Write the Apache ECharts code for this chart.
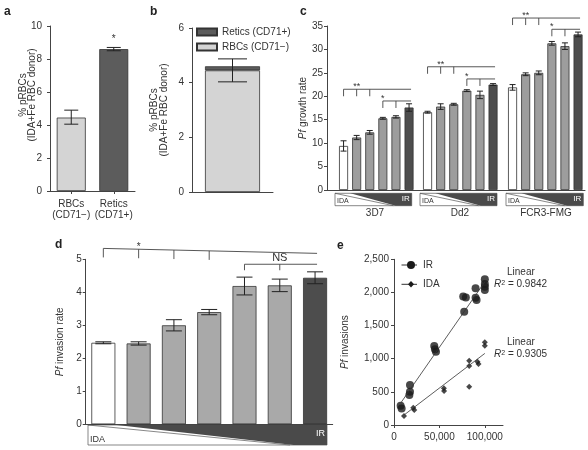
<!DOCTYPE html>
<html><head><meta charset="utf-8">
<script src="https://cdn.jsdelivr.net/npm/echarts@6/dist/echarts.min.js"></script>
<style>html,body{margin:0;padding:0;background:#fff}#c{width:588px;height:450px}</style>
</head><body><div id="c"></div>
<script>
// ---------------- data ----------------
const aCategories = ['RBCs\n(CD71−)', 'Retics\n(CD71+)'];
const aValues = [4.45, 8.6];
const aErrLow = [4.05, 8.5];
const aErrHigh = [4.9, 8.7];

const bCategories = ['IDA+Fe'];
const bRBCs = [4.45];
const bRetics = [0.15];
const bErrLow = [4.03];
const bErrHigh = [4.87];

const cGroups = ['3D7', 'Dd2', 'FCR3-FMG'];
const cLevels = ['1', '2', '3', '4', '5', '6'];
const c3D7 = [9.4, 11.2, 12.3, 15.3, 15.6, 17.6];
const c3D7Err = [1.1, 0.45, 0.4, 0.2, 0.25, 0.8];
const cDd2 = [16.6, 17.8, 18.3, 21.2, 20.3, 22.5];
const cDd2Err = [0.2, 0.6, 0.2, 0.2, 0.8, 0.2];
const cFCR3 = [21.9, 24.7, 25.0, 31.3, 30.7, 33.2];
const cFCR3Err = [0.6, 0.3, 0.4, 0.4, 0.7, 0.5];

const dLevels = ['1', '2', '3', '4', '5', '6', '7'];
const dValues = [2.47, 2.45, 3.0, 3.40, 4.19, 4.21, 4.44];
const dErr = [0.03, 0.05, 0.17, 0.08, 0.27, 0.19, 0.18];

const eIR = [[7300,290],[8400,250],[17600,604],[17600,503],[16900,453],[44300,1192],[45100,1142],[46200,1106],
  [77300,1710],[76200,1940],[79100,1925],[89800,2062],[89800,1921],[90900,1886],[100000,2198],[100000,2128],[100000,2087],[100000,2037]];
const eIDA = [[11000,136],[21200,262],[22300,226],[54900,553],[55100,513],[82800,578],[82800,971],[82800,890],
  [91900,956],[93000,920],[100000,1248],[100000,1197]];
const eIRFit = [[7300,330],[100000,2160]];
const eIDAFit = [[11000,150],[100000,1080]];
const eR2 = ['0.9842', '0.9305'];

// ---------------- annotations (significance brackets, in data units) ----------------
const cBrackets = [
  [{from:0,to:5,y0:21.5,y1:21.5,ticks:[0,1,2],label:'**',at:0.9},{from:3,to:5,y0:19.0,y1:19.0,ticks:[3,4],label:'*',at:3.4}],
  [{from:0,to:5,y0:26.3,y1:26.3,ticks:[0,1,2],label:'**',at:0.7},{from:3,to:5,y0:23.7,y1:23.7,ticks:[3,4],label:'*',at:3.1}],
  [{from:0,to:5,y0:36.7,y1:36.7,ticks:[0,1,2],label:'**',at:0.8},{from:3,to:5,y0:34.3,y1:34.3,ticks:[3,4],label:'*',at:3.3}]
];
const dBrackets = [
  {from:0,to:6,y0:5.33,y1:5.18,ticks:[0,1,2,3],label:'*',at:1.4,tick:9},
  {from:4,to:6,y0:4.85,y1:4.85,ticks:[4,5],label:'NS',at:4.55,tick:6}
];

// ---------------- styling ----------------
const FONT = 'Liberation Sans, Arial, Helvetica, sans-serif';
const TXT = '#333', AX = '#444';
const LIGHT = '#d4d4d4', RET = '#5c5c5c', MID_C = '#9d9d9d', MID_D = '#a9a9a9', DARK = '#4d4d4d', WHITE = '#ffffff';

const chart = echarts.init(document.getElementById('c'), null, {renderer:'canvas', width:588, height:450});

function valAxis(grid, min, max, interval, margin, extra) {
  return Object.assign({
    type:'value', gridIndex:grid, min:min, max:max, interval:interval,
    axisLine:{show:true, onZero:false, lineStyle:{color:AX, width:1}},
    axisTick:{show:true, length:3, lineStyle:{color:AX}},
    axisLabel:{show:true, fontSize:10, color:TXT, fontFamily:FONT, margin:margin},
    splitLine:{show:false}
  }, extra || {});
}
function hiddenAxis(type, grid, extra) {
  return Object.assign({type:type, gridIndex:grid, show:false, splitLine:{show:false}}, extra || {});
}
function baseXAxis(grid, data) {
  return {type:'category', gridIndex:grid, data:data,
    axisLine:{show:true, lineStyle:{color:AX, width:1}},
    axisTick:{show:false}, axisLabel:{show:false}, splitLine:{show:false}};
}
function grid(l, t, w, h) { return {left:l, top:t, width:w, height:h, containLabel:false, outerBoundsMode:'none'}; }

function errRender(cap) {
  return function(params, api) {
    const x = api.value(0), lo = api.value(1), hi = api.value(2);
    const p1 = api.coord([x, lo]), p2 = api.coord([x, hi]);
    const st = {stroke:'#222', lineWidth:1};
    return {type:'group', children:[
      {type:'line', shape:{x1:p1[0], y1:p1[1], x2:p2[0], y2:p2[1]}, style:st},
      {type:'line', shape:{x1:p1[0]-cap/2, y1:p1[1], x2:p1[0]+cap/2, y2:p1[1]}, style:st},
      {type:'line', shape:{x1:p2[0]-cap/2, y1:p2[1], x2:p2[0]+cap/2, y2:p2[1]}, style:st}
    ]};
  };
}
function errSeries(xi, yi, data, cap) {
  return {type:'custom', xAxisIndex:xi, yAxisIndex:yi, renderItem:errRender(cap), data:data, z:5, silent:true};
}
function bracketRender(specs, defTick, fs, ext) {
  return function(params, api) {
    const s = specs[params.dataIndex];
    const tl = s.tick || defTick;
    const yAt = function(x) { return s.y0 + (s.y1 - s.y0) * (x - s.from) / (s.to - s.from); };
    const st = {stroke:'#444', lineWidth:0.9};
    const a = api.coord([s.from, s.y0]), b = api.coord([s.to, s.y1]);
    const ch = [{type:'line', shape:{x1:a[0], y1:a[1], x2:b[0]+ext, y2:b[1]}, style:st}];
    s.ticks.forEach(function(t) {
      const p = api.coord([t, yAt(t)]);
      ch.push({type:'line', shape:{x1:p[0], y1:p[1], x2:p[0], y2:p[1]+tl}, style:st});
    });
    const tp = api.coord([s.at, yAt(s.at)]);
    if (s.label === 'NS') {
      ch.push({type:'text', x:tp[0], y:tp[1]-1, style:{text:s.label, fontSize:fs+1, fontFamily:FONT, fill:TXT, textAlign:'center', textVerticalAlign:'bottom'}});
    } else {
      ch.push({type:'text', x:tp[0], y:tp[1]-2.5, style:{text:s.label, fontSize:fs, fontFamily:FONT, fill:TXT, textAlign:'center', textVerticalAlign:'middle'}});
    }
    return {type:'group', children:ch};
  };
}
function fmtThousands(v) { return String(v).replace(/\B(?=(\d{3})+(?!\d))/g, ','); }

// wedge (IDA -> IR gradient indicator), drawn below the axes
function wedge(x0, x1, y0, y1, dl, wr, dr, fsI, fsR) {
  const w = x1 - x0;
  return [
    {type:'rect', shape:{x:x0, y:y0, width:w, height:y1-y0}, style:{fill:'#fff', stroke:'#555', lineWidth:0.7}, silent:true},
    {type:'line', shape:{x1:x0, y1:y0, x2:x0+wr*w, y2:y1}, style:{stroke:'#555', lineWidth:0.7}, silent:true},
    {type:'polygon', shape:{points:[[x0+dl*w, y0],[x1, y0],[x1, y1],[x0+dr*w, y1]]}, style:{fill:'#4a4a4a'}, silent:true},
    {type:'text', x:x0+2, y:y1-1, style:{text:'IDA', fontSize:fsI, fontFamily:FONT, fill:TXT, textAlign:'left', textVerticalAlign:'bottom'}, silent:true},
    {type:'text', x:x1-2, y:y0+(y1-y0)*0.45, style:{text:'IR', fontSize:fsR, fontFamily:FONT, fill:'#fff', textAlign:'right', textVerticalAlign:'middle'}, silent:true}
  ];
}

const cData = [c3D7, cDd2, cFCR3];
const cErrs = [c3D7Err, cDd2Err, cFCR3Err];
const cColors = [WHITE, MID_C, MID_C, MID_C, MID_C, DARK];
const dColors = [WHITE, MID_D, MID_D, MID_D, MID_D, MID_D, DARK];
const barBorder = {borderColor:'#333', borderWidth:0.8};

const grids = [
  grid(50, 26, 85, 165),        // 0 a
  grid(192, 28, 81, 164),       // 1 b
  grid(327, 26, 258, 164),      // 2 c axes
  grid(337, 26, 78.6, 164),     // 3 c 3D7
  grid(421, 26, 78.6, 164),     // 4 c Dd2
  grid(506, 26, 78.6, 164),     // 5 c FCR3
  grid(85.7, 259.3, 247, 165),  // 6 d
  grid(394, 259.3, 109, 165.7)  // 7 e
];

const xAxes = [
  {type:'category', gridIndex:0, data:aCategories,
    axisLine:{show:true, lineStyle:{color:AX, width:1}},
    axisTick:{show:true, alignWithLabel:true, length:3, lineStyle:{color:AX}},
    axisLabel:{interval:0, fontSize:10, lineHeight:11, color:TXT, fontFamily:FONT, margin:8}, splitLine:{show:false}},
  baseXAxis(1, bCategories),
  {type:'value', gridIndex:2, min:0, max:1, axisLine:{show:true, onZero:false, lineStyle:{color:AX, width:1}},
    axisTick:{show:false}, axisLabel:{show:false}, splitLine:{show:false}},
  hiddenAxis('category', 3, {data:cLevels}),
  hiddenAxis('category', 4, {data:cLevels}),
  hiddenAxis('category', 5, {data:cLevels}),
  baseXAxis(6, dLevels),
  valAxis(7, 0, 120000, 50000, 7, {
    axisTick:{show:true, length:3, lineStyle:{color:AX}, customValues:[0, 50000, 100000]},
    axisLabel:{show:true, fontSize:10, color:TXT, fontFamily:FONT, margin:7, customValues:[0, 50000, 100000], formatter:fmtThousands}})
];

const yAxes = [
  valAxis(0, 0, 10, 2, 8),
  valAxis(1, 0, 6, 2, 8),
  valAxis(2, 0, 35, 5, 4, {name:'{i|Pf} growth rate', nameLocation:'middle', nameGap:17,
    nameTextStyle:{fontSize:10, color:TXT, fontFamily:FONT, rich:{i:{fontStyle:'italic', fontSize:10, color:TXT, fontFamily:FONT}}}}),
  hiddenAxis('value', 3, {min:0, max:35}),
  hiddenAxis('value', 4, {min:0, max:35}),
  hiddenAxis('value', 5, {min:0, max:35}),
  valAxis(6, 0, 5, 1, 4, {name:'{i|Pf} invasion rate', nameLocation:'middle', nameGap:20,
    nameTextStyle:{fontSize:10, color:TXT, fontFamily:FONT, rich:{i:{fontStyle:'italic', fontSize:10, color:TXT, fontFamily:FONT}}}}),
  valAxis(7, 0, 2500, 500, 5, {name:'{i|Pf} invasions', nameLocation:'middle', nameGap:44,
    nameTextStyle:{fontSize:10, color:TXT, fontFamily:FONT, rich:{i:{fontStyle:'italic', fontSize:10, color:TXT, fontFamily:FONT}}},
    axisLabel:{show:true, fontSize:10, color:TXT, fontFamily:FONT, margin:5, formatter:fmtThousands}})
];

const series = [];
// a
series.push({type:'bar', xAxisIndex:0, yAxisIndex:0, barWidth:29,
  data:aValues.map(function(v, i) { return {value:v, itemStyle:Object.assign({color:i === 0 ? LIGHT : RET}, barBorder)}; }),
  label:{show:false}, silent:true});
series.push(errSeries(0, 0, aValues.map(function(v, i) { return [i, aErrLow[i], aErrHigh[i]]; }), 14));
series.push({type:'custom', xAxisIndex:0, yAxisIndex:0, silent:true, z:6, data:[[1, aErrHigh[1]]],
  renderItem:function(p, api) { const c = api.coord([api.value(0), api.value(1)]);
    return {type:'text', x:c[0], y:c[1]-8, style:{text:'*', fontSize:10, fontFamily:FONT, fill:TXT, textAlign:'center', textVerticalAlign:'middle'}}; }});
// b
series.push({type:'bar', name:'RBCs (CD71−)', stack:'b', xAxisIndex:1, yAxisIndex:1, barWidth:55, data:bRBCs,
  itemStyle:Object.assign({color:LIGHT}, barBorder), silent:true});
series.push({type:'bar', name:'Retics (CD71+)', stack:'b', xAxisIndex:1, yAxisIndex:1, barWidth:55, data:bRetics,
  itemStyle:Object.assign({color:RET}, barBorder), silent:true});
series.push(errSeries(1, 1, bRBCs.map(function(v, i) { return [i, bErrLow[i], bErrHigh[i]]; }), 29));
// c
for (let g = 0; g < 3; g++) {
  const ai = 3 + g;
  series.push({type:'bar', xAxisIndex:ai, yAxisIndex:ai, barWidth:9, silent:true,
    data:cData[g].map(function(v, i) { return {value:v, itemStyle:Object.assign({color:cColors[i]}, barBorder)}; })});
  series.push(errSeries(ai, ai, cData[g].map(function(v, i) { return [i, v - cErrs[g][i], v + cErrs[g][i]]; }), 6));
  series.push({type:'custom', xAxisIndex:ai, yAxisIndex:ai, silent:true, z:6, clip:false,
    data:cBrackets[g].map(function(s) { return [s.from, s.y0]; }), renderItem:bracketRender(cBrackets[g], 7, 9, 2)});
}
// d
series.push({type:'bar', xAxisIndex:6, yAxisIndex:6, barWidth:24, silent:true,
  data:dValues.map(function(v, i) { return {value:v, itemStyle:Object.assign({color:dColors[i]}, barBorder)}; })});
series.push(errSeries(6, 6, dValues.map(function(v, i) { return [i, v - dErr[i], v + dErr[i]]; }), 16));
series.push({type:'custom', xAxisIndex:6, yAxisIndex:6, silent:true, z:6, clip:false,
  data:dBrackets.map(function(s) { return [s.from, s.y0]; }), renderItem:bracketRender(dBrackets, 8, 10, 2)});
// e
series.push({type:'line', name:'IR fit', xAxisIndex:7, yAxisIndex:7, data:eIRFit, symbol:'none', silent:true,
  lineStyle:{color:'#333', width:0.8}});
series.push({type:'line', name:'IDA fit', xAxisIndex:7, yAxisIndex:7, data:eIDAFit, symbol:'none', silent:true,
  lineStyle:{color:'#333', width:0.8}});
series.push({type:'scatter', name:'IR', xAxisIndex:7, yAxisIndex:7, data:eIR, symbol:'circle', symbolSize:8, silent:true,
  itemStyle:{color:'#1a1a1a'}});
series.push({type:'scatter', name:'IDA', xAxisIndex:7, yAxisIndex:7, data:eIDA, symbol:'diamond', symbolSize:6, silent:true,
  itemStyle:{color:'#1a1a1a'}});

const letter = function(t, x, y) { return {type:'text', x:x, y:y, style:{text:t, fontSize:12, fontWeight:'bold', fontFamily:FONT, fill:'#222', textAlign:'left', textVerticalAlign:'middle'}}; };
const rotText = function(t, x, y) { return {type:'text', x:x, y:y, rotation:Math.PI/2, style:{text:t, fontSize:10, fontFamily:FONT, fill:TXT, textAlign:'center', textVerticalAlign:'middle'}}; };
const plainText = function(t, x, y, fs, align, rich) { return {type:'text', x:x, y:y, style:{text:t, fontSize:fs, fontFamily:FONT, fill:TXT, textAlign:align || 'center', textVerticalAlign:'middle', rich:rich}}; };
const richR = {i:{fontStyle:'italic', fontSize:10, fontFamily:FONT, fill:TXT, color:TXT}, s:{fontSize:7, fontFamily:FONT, verticalAlign:'top', color:TXT, fill:TXT}};

let graphics = [
  letter('a', 4, 12), letter('b', 150, 12), letter('c', 300, 12), letter('d', 55, 245), letter('e', 337, 246),
  rotText('% pRBCs', 23, 95), rotText('(IDA+Fe RBC donor)', 32.5, 95),
  rotText('% pRBCs', 154.5, 110), rotText('(IDA+Fe RBC donor)', 164.5, 110),
  plainText(cGroups[0], 375, 213, 10), plainText(cGroups[1], 460, 213, 10), plainText(cGroups[2], 546, 213, 10),
  // e legend
  {type:'line', shape:{x1:401.5, y1:265, x2:417, y2:265}, style:{stroke:'#333', lineWidth:1}},
  {type:'circle', shape:{cx:411, cy:265, r:4}, style:{fill:'#1a1a1a'}},
  plainText('IR', 423, 265, 10, 'left'),
  {type:'line', shape:{x1:401.5, y1:284.3, x2:417, y2:284.3}, style:{stroke:'#333', lineWidth:1}},
  {type:'polygon', shape:{points:[[411,281],[414,284.3],[411,287.6],[408,284.3]]}, style:{fill:'#1a1a1a'}},
  plainText('IDA', 423, 284.3, 10, 'left'),
  plainText('Linear', 507, 272, 10, 'left'),
  plainText('{i|R}{s|2} = ' + eR2[0], 494, 284.5, 10, 'left', richR),
  plainText('Linear', 507, 342.7, 10, 'left'),
  plainText('{i|R}{s|2} = ' + eR2[1], 494, 354.5, 10, 'left', richR)
];
graphics = graphics.concat(
  wedge(335, 411.7, 193.3, 205.7, 0.2, 0.76, 0.79, 7, 8),
  wedge(420, 497, 193.3, 205.7, 0.2, 0.76, 0.79, 7, 8),
  wedge(506, 583.3, 193.3, 205.7, 0.2, 0.76, 0.79, 7, 8),
  wedge(88, 327, 425, 445, 0.12, 0.845, 0.86, 9, 9)
);

chart.setOption({
  backgroundColor:'#fff',
  animation:false,
  textStyle:{fontFamily:FONT},
  grid:grids,
  xAxis:xAxes,
  yAxis:yAxes,
  legend:[{data:['Retics (CD71+)', 'RBCs (CD71−)'], orient:'vertical', left:196, top:27, itemWidth:20, itemHeight:7, itemGap:5,
    icon:'rect', selectedMode:false, textStyle:{fontSize:10, color:TXT, fontFamily:FONT}, padding:0}],
  series:series,
  graphic:graphics
});
</script></body></html>
